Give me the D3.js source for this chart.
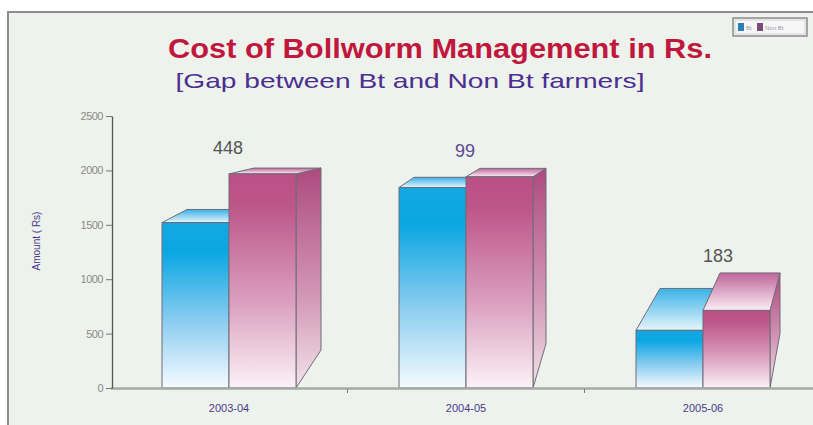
<!DOCTYPE html>
<html><head><meta charset="utf-8">
<script src="https://cdn.jsdelivr.net/npm/d3@7"></script>
<style>html,body{margin:0;padding:0;background:#fff}</style>
</head><body>
<svg id="c" width="813" height="425"></svg>
<script>
const categories = ["2003-04", "2004-05", "2005-06"];
const seriesNames = ["Bt", "Non Bt"];
const btValues = [1520, 1842, 530];
const nonBtValues = [1968, 1941, 713];
const gapLabels = ["448", "99", "183"];
const yTicks = [0, 500, 1000, 1500, 2000, 2500];

const svg = d3.select("#c");
const W = 813, H = 425;
const font = "'Liberation Sans', Arial, sans-serif";

// frame
svg.append("rect").attr("x",0).attr("y",0).attr("width",W).attr("height",H).attr("fill","#fff");
svg.append("rect").attr("x",8).attr("y",12).attr("width",830).attr("height",430)
  .attr("fill","#eef2ed").attr("stroke","#8c8c8c").attr("stroke-width",2);

const y = d3.scaleLinear().domain([0,2500]).range([388,116]);
const x = d3.scaleBand().domain(categories).range([110.5, 821.5]).paddingInner(0).paddingOuter(0);

// gradients
const defs = svg.append("defs");
function grad(id, stops){
  const g = defs.append("linearGradient").attr("id",id).attr("x1",0).attr("y1",0).attr("x2",0).attr("y2",1);
  stops.forEach(s=>g.append("stop").attr("offset",s[0]).attr("stop-color",s[1]));
}
grad("btFront", [[0,"#14a8e2"],[0.18,"#0aa7e3"],[0.6,"#8ccdf0"],[1,"#f6fbff"]]);
grad("btTop", [[0,"#3ab2e6"],[1,"#e6f5fc"]]);
grad("nbFront", [[0,"#bb4f86"],[0.15,"#bd5689"],[0.6,"#dba0bf"],[1,"#fbf2f6"]]);
grad("nbSide", [[0,"#ad4a7f"],[0.6,"#d49ab8"],[1,"#f3e2ea"]]);
grad("nbTop", [[0,"#c0649a"],[1,"#fbeef4"]]);

// perspective depth per group (layout)
const depth = [
  {dxL:25, dxR:25, ky:0.15, vy:135},
  {dxL:15, dxR:13, ky:0.17, vy:127},
  {dxL:24, dxR:10, ky:0.22, vy:140}
];
const barW = 67;
const yBase = y(0);

const data = categories.map((c,i)=>({cat:c, vals:[btValues[i], nonBtValues[i]], gap:gapLabels[i], d:depth[i]}));

const stroke = "#6d6d78";
const g = svg.append("g");
data.forEach(dd=>{
  const cx = x(dd.cat) + x.bandwidth()/2;
  const inner = d3.scaleBand().domain(seriesNames).range([cx-barW, cx+barW]);
  const xL = cx-barW, xR = cx+barW;
  const dx = xx => dd.d.dxL + (dd.d.dxR - dd.d.dxL)*(xx-xL)/(xR-xL);
  const dy = yy => -dd.d.ky*(yy - dd.d.vy);
  seriesNames.forEach((s,si)=>{
    const x0 = inner(s), x1 = x0 + inner.bandwidth();
    const yT = y(dd.vals[si]);
    const isNB = si===1;
    if(isNB){
      g.append("path").attr("d", d3.line()([[x1,yT],[x1+dx(x1),yT+dy(yT)],[x1+dx(x1),yBase+dy(yBase)],[x1,yBase]]) + "Z")
        .attr("fill","url(#nbSide)").attr("stroke",stroke).attr("stroke-width",1);
    }
    g.append("path").attr("d", d3.line()([[x0,yT],[x1,yT],[x1+dx(x1),yT+dy(yT)],[x0+dx(x0),yT+dy(yT)]]) + "Z")
      .attr("fill", isNB ? "url(#nbTop)" : "url(#btTop)").attr("stroke",stroke).attr("stroke-width",1);
    g.append("rect").attr("x",x0).attr("y",yT).attr("width",x1-x0).attr("height",yBase-yT)
      .attr("fill", isNB ? "url(#nbFront)" : "url(#btFront)").attr("stroke",stroke).attr("stroke-width",1);
  });
});

// x baseline axis
const xAxis = d3.axisBottom(x).tickSize(0).tickPadding(16);
const xg = svg.append("g").attr("transform",`translate(0,${yBase})`).call(xAxis);
xg.select(".domain").attr("stroke","#a6aaa6").attr("stroke-width",2.5);
xg.selectAll("text").attr("fill","#4a3a8a").attr("font-family",font).attr("font-size",11);
xg.selectAll("line.sep").data(categories.slice(1)).enter().append("line").attr("class","sep")
  .attr("x1",d=>x(d)).attr("x2",d=>x(d)).attr("y1",1).attr("y2",5).attr("stroke","#777").attr("stroke-width",1);

// y axis
const yAxis = d3.axisLeft(y).tickValues(yTicks).tickFormat(d3.format("d")).tickSize(6).tickSizeOuter(0).tickPadding(3);
const yg = svg.append("g").attr("transform","translate(112,0)").call(yAxis);
yg.select(".domain").attr("stroke","#555").attr("stroke-width",1.3);
yg.selectAll(".tick line").attr("stroke","#777");
yg.selectAll("text").attr("fill","#8a8a8a").attr("font-family",font).attr("font-size",11).attr("letter-spacing",-0.5);

// y label
svg.append("text").attr("transform","translate(40,241) rotate(-90)").attr("text-anchor","middle")
  .attr("font-family",font).attr("font-size",10).attr("fill","#4b3a8c").text("Amount ( Rs)");

// gap annotations
data.forEach((dd,i)=>{
  const cx = x(dd.cat) + x.bandwidth()/2;
  const top = y(Math.max(...dd.vals));
  const offs = [[-1,-20],[-1,-20],[15,-48]][i];
  svg.append("text").attr("x",cx+offs[0]).attr("y",top+offs[1]).attr("text-anchor","middle")
    .attr("font-family",font).attr("font-size",18).attr("fill", i===1?"#5b4a94":"#555")
    .text(dd.gap);
});

// titles
svg.append("text").attr("x",440).attr("y",58).attr("text-anchor","middle")
  .attr("font-family",font).attr("font-weight","bold").attr("font-size",27).attr("fill","#c0183c")
  .attr("textLength",544).attr("lengthAdjust","spacingAndGlyphs")
  .text("Cost of Bollworm Management in Rs.");
svg.append("text").attr("x",410).attr("y",88).attr("text-anchor","middle")
  .attr("font-family",font).attr("font-size",21).attr("fill","#4b2e90")
  .attr("textLength",469).attr("lengthAdjust","spacingAndGlyphs")
  .text("[Gap between Bt and Non Bt farmers]");

// legend
const lg = svg.append("g").attr("transform","translate(733,18)");
lg.append("rect").attr("width",74).attr("height",18).attr("fill","#f5f6f5").attr("stroke","#8a8a8a").attr("stroke-width",1.5);
lg.append("rect").attr("x",2).attr("y",2).attr("width",70).attr("height",14).attr("fill","none").attr("stroke","#bbb").attr("stroke-width",0.6);
const lcol = ["#2c7fb4","#7c4a7c"];
const lx = [5, 24];
seriesNames.forEach((s,i)=>{
  lg.append("rect").attr("x",lx[i]).attr("y",5).attr("width",6).attr("height",8).attr("fill",lcol[i]);
  lg.append("text").attr("x",lx[i]+8).attr("y",12).attr("font-family",font).attr("font-size",6).attr("fill","#9a9aaa").text(s);
});
</script>
</body></html>
